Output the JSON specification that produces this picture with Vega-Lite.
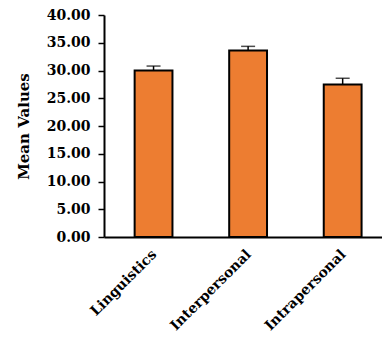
{
  "$schema": "https://vega.github.io/schema/vega-lite/v6.json",
  "autosize": {"type": "none"},
  "padding": {"left": 104, "top": 15, "right": 0, "bottom": 101},
  "width": 278,
  "height": 222,
  "background": "white",
  "config": {
    "view": {"stroke": null},
    "font": "DejaVu Serif",
    "axis": {
      "labelFont": "DejaVu Serif",
      "labelFontWeight": "bold",
      "labelColor": "black",
      "labelOverlap": false,
      "titleFont": "DejaVu Serif",
      "titleFontWeight": "bold",
      "titleColor": "black",
      "domainColor": "black",
      "tickColor": "black",
      "grid": false
    },
    "axisY": {
      "title": "Mean Values",
      "titleFontSize": 15,
      "titlePadding": 15,
      "format": ".2f",
      "values": [0, 5, 10, 15, 20, 25, 30, 35, 40],
      "labelFontSize": 14,
      "labelPadding": 8,
      "tickSize": 6,
      "tickWidth": 1.5,
      "domainWidth": 2
    }
  },
  "data": {
    "values": [
      {"category": "Linguistics", "mean": 30.0, "err": 0.8},
      {"category": "Interpersonal", "mean": 33.6, "err": 0.75},
      {"category": "Intrapersonal", "mean": 27.5, "err": 1.1}
    ]
  },
  "transform": [{"calculate": "datum.mean + datum.err", "as": "upper"}],
  "encoding": {
    "x": {
      "field": "category",
      "type": "nominal",
      "sort": null,
      "scale": {"paddingInner": 0.6, "paddingOuter": 0.27, "align": 0.6},
      "axis": {
        "title": null,
        "labelAngle": -45,
        "labelFontSize": 14,
        "labelPadding": 10,
        "labelOffset": -4,
        "ticks": false,
        "domainWidth": 2
      }
    }
  },
  "layer": [
    {
      "mark": {"type": "bar", "fill": "#ED7D31", "stroke": "black", "strokeWidth": 2},
      "encoding": {
        "y": {
          "field": "mean",
          "type": "quantitative",
          "title": "Mean Values",
          "scale": {"domain": [0, 40]},
          "axis": {"values": [0, 5, 10, 15, 20, 25, 30, 35, 40], "format": ".2f", "labelOverlap": false}
        }
      }
    },
    {
      "mark": {"type": "rule", "color": "black", "strokeWidth": 1.5},
      "encoding": {
        "y": {"field": "mean", "type": "quantitative", "title": "Mean Values",
              "axis": {"values": [0, 5, 10, 15, 20, 25, 30, 35, 40], "format": ".2f", "labelOverlap": false}},
        "y2": {"field": "upper"}
      }
    },
    {
      "mark": {"type": "tick", "color": "black", "thickness": 1.5, "size": 14},
      "encoding": {
        "y": {"field": "upper", "type": "quantitative", "title": "Mean Values",
              "axis": {"values": [0, 5, 10, 15, 20, 25, 30, 35, 40], "format": ".2f", "labelOverlap": false}}
      }
    }
  ]
}
